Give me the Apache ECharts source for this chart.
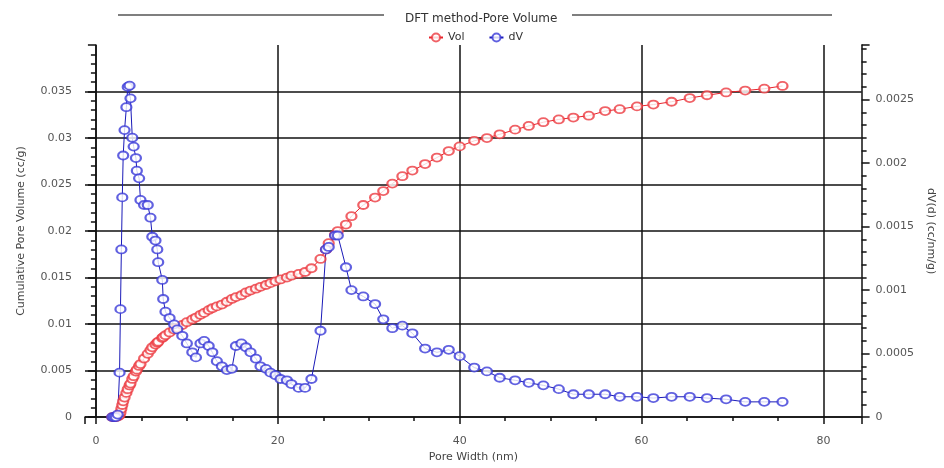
<!DOCTYPE html>
<html>
<head>
<meta charset="utf-8">
<script src="https://cdn.jsdelivr.net/npm/echarts/dist/echarts.min.js"></script>
<style>
  html, body { margin: 0; padding: 0; background: #fff; }
  #main { width: 944px; height: 468px; }
</style>
</head>
<body>
<div id="main"></div>
<script>
// pore widths (nm), shared by both series
var poreWidth = [1.8, 2.0, 2.2, 2.4, 2.6, 2.7, 2.8, 2.9, 3.0, 3.15, 3.35, 3.5, 3.7, 3.8, 4.0, 4.15, 4.4, 4.5, 4.75, 4.9,
  5.3, 5.7, 6.0, 6.2, 6.55, 6.75, 6.85, 7.3, 7.4, 7.65, 8.1, 8.6, 8.95, 9.5, 10.0, 10.6, 11.0, 11.5, 11.9, 12.4,
  12.8, 13.3, 13.85, 14.4, 14.95, 15.4, 16.0, 16.5, 17.0, 17.6, 18.1, 18.7, 19.2, 19.75, 20.3, 21.0, 21.5, 22.3, 23.0, 23.7,
  24.7, 25.3, 25.6, 26.3, 26.6, 27.5, 28.1, 29.4, 30.7, 31.6, 32.6, 33.7, 34.8, 36.2, 37.5, 38.8, 40.0, 41.6, 43.0, 44.4,
  46.1, 47.6, 49.2, 50.9, 52.5, 54.2, 56.0, 57.6, 59.5, 61.3, 63.3, 65.3, 67.2, 69.3, 71.4, 73.5, 75.5];

// cumulative pore volume (cc/g)
var volValues = [0, 0, 0, 0.00005, 0.0002, 0.0005, 0.0009, 0.0013, 0.0017, 0.0021, 0.0026, 0.0030, 0.0034, 0.0036, 0.0041, 0.0044, 0.0049, 0.0051, 0.0055, 0.0057,
  0.0063, 0.0068, 0.0072, 0.0075, 0.0078, 0.0080, 0.0081, 0.0085, 0.0086, 0.0088, 0.0091, 0.0094, 0.0096, 0.0099, 0.0102, 0.0105, 0.0107, 0.0110, 0.0112, 0.0115,
  0.0117, 0.0119, 0.0121, 0.0124, 0.0127, 0.0129, 0.0131, 0.0134, 0.0136, 0.0138, 0.0140, 0.0142, 0.0144, 0.0146, 0.0148, 0.0150, 0.0152, 0.0154, 0.0156, 0.0160,
  0.0170, 0.0180, 0.0187, 0.0196, 0.0200, 0.0207, 0.0216, 0.0228, 0.0236, 0.0243, 0.0251, 0.0259, 0.0265, 0.0272, 0.0279, 0.0286, 0.0291, 0.0297, 0.0300, 0.0304,
  0.0309, 0.0313, 0.0317, 0.0320, 0.0322, 0.0324, 0.0329, 0.0331, 0.0334, 0.0336, 0.0339, 0.0343, 0.0346, 0.0349, 0.0351, 0.0353, 0.0356];

// dV(d) (cc/nm/g)
var dvValues = [0, 0, 0, 0.00002, 0.00035, 0.00085, 0.00132, 0.00173, 0.00206, 0.00226, 0.00244, 0.0026, 0.00261, 0.00251, 0.0022, 0.00213, 0.00204, 0.00194, 0.00188, 0.00171,
  0.00167, 0.00167, 0.00157, 0.00142, 0.00139, 0.00132, 0.00122, 0.00108, 0.00093, 0.00083, 0.00078, 0.00073, 0.00069, 0.00064, 0.00058, 0.00051, 0.00047, 0.00058, 0.0006, 0.00056,
  0.00051, 0.00044, 0.0004, 0.00037, 0.00038, 0.00056, 0.00058, 0.00055, 0.00051, 0.00046, 0.0004, 0.00038, 0.00035, 0.00033, 0.0003, 0.00029, 0.00026, 0.00023, 0.00023, 0.0003,
  0.00068, 0.00132, 0.00134, 0.00143, 0.00143, 0.00118, 0.001, 0.00095, 0.00089, 0.00077, 0.0007, 0.00072, 0.00066, 0.00054, 0.00051, 0.00053, 0.00048, 0.00039, 0.00036, 0.00031,
  0.00029, 0.00027, 0.00025, 0.00022, 0.00018, 0.00018, 0.00018, 0.00016, 0.00016, 0.00015, 0.00016, 0.00016, 0.00015, 0.00014, 0.00012, 0.00012, 0.00012];

var seriesNames = ['Vol', 'dV'];

function pairs(xs, ys) {
  return xs.map(function (x, i) { return [x, ys[i]]; });
}

var chart = echarts.init(document.getElementById('main'));
var font = 'DejaVu Sans';
var gridColor = '#111';

chart.setOption({
  animation: false,
  backgroundColor: '#fff',
  title: {
    text: 'DFT method-Pore Volume',
    left: 400, top: 8,
    textStyle: { fontFamily: font, fontSize: 12, fontWeight: 'normal', color: '#333' }
  },
  graphic: [
    { type: 'line', shape: { x1: 118, y1: 15, x2: 384, y2: 15 }, style: { stroke: '#555', lineWidth: 1.5 } },
    { type: 'line', shape: { x1: 572, y1: 15, x2: 832, y2: 15 }, style: { stroke: '#555', lineWidth: 1.5 } }
  ],
  legend: {
    data: seriesNames,
    left: 423, top: 27,
    itemWidth: 14, itemHeight: 10, itemGap: 24,
    textStyle: { fontFamily: font, fontSize: 11, color: '#333' }
  },
  grid: { left: 85, right: 77, top: 45, bottom: 46 },
  xAxis: {
    type: 'value',
    min: -1.2, max: 84.2,
    splitNumber: 5,
    offset: 9,
    name: 'Pore Width (nm)',
    nameLocation: 'middle',
    nameGap: 23,
    nameTextStyle: { fontFamily: font, fontSize: 11, color: '#444' },
    axisLine: { lineStyle: { color: gridColor, width: 1.5 } },
    axisTick: { length: 7, lineStyle: { color: gridColor, width: 1.5 } },
    minorTick: { show: true, splitNumber: 4, length: 4, lineStyle: { color: gridColor, width: 1.5 } },
    axisLabel: { showMinLabel: false, showMaxLabel: false, margin: 10, fontFamily: font, fontSize: 11, color: '#555' },
    splitLine: { show: true, showMinLine: false, showMaxLine: false, lineStyle: { color: gridColor, width: 1.5 } }
  },
  yAxis: [{
    type: 'value',
    min: 0, max: 0.04, interval: 0.005,
    name: 'Cumulative Pore Volume (cc/g)',
    nameLocation: 'middle',
    nameGap: 58,
    nameTextStyle: { fontFamily: font, fontSize: 11, color: '#444' },
    axisLine: { show: true, lineStyle: { color: gridColor, width: 1.5 } },
    axisTick: { show: true, length: 8, lineStyle: { color: gridColor, width: 1.5 } },
    minorTick: { show: true, splitNumber: 5, length: 5, lineStyle: { color: gridColor, width: 1.5 } },
    axisLabel: { showMaxLabel: false, margin: 13, fontFamily: font, fontSize: 11, color: '#555' },
    splitLine: { show: true, showMaxLine: false, lineStyle: { color: gridColor, width: 1.5 } }
  }, {
    type: 'value',
    position: 'right',
    min: 0, max: 0.00293, interval: 0.0005,
    name: 'dV(d) (cc/nm/g)',
    nameLocation: 'middle',
    nameRotate: -90,
    nameGap: 63,
    nameTextStyle: { fontFamily: font, fontSize: 11, color: '#444' },
    axisLine: { show: true, lineStyle: { color: gridColor, width: 1.5 } },
    axisTick: { show: true, length: 8, lineStyle: { color: gridColor, width: 1.5 } },
    minorTick: { show: true, splitNumber: 5, length: 5, lineStyle: { color: gridColor, width: 1.5 } },
    axisLabel: { showMaxLabel: false, margin: 14, fontFamily: font, fontSize: 11, color: '#555' },
    splitLine: { show: false }
  }],
  series: [{
    name: 'Vol',
    type: 'line',
    yAxisIndex: 0,
    data: pairs(poreWidth, volValues),
    symbol: 'emptyCircle',
    symbolSize: [10, 8],
    color: '#e8232b',
    lineStyle: { width: 1, color: '#e8232b' },
    itemStyle: { borderWidth: 1, color: '#ec3a40', opacity: 0.8 }
  }, {
    name: 'dV',
    type: 'line',
    yAxisIndex: 1,
    data: pairs(poreWidth, dvValues),
    symbol: 'emptyCircle',
    symbolSize: [10, 8],
    color: '#2828d4',
    lineStyle: { width: 1, color: '#1a1ab8' },
    itemStyle: { borderWidth: 1, color: '#3a3ad8', opacity: 0.8 }
  }]
});
</script>
</body>
</html>
